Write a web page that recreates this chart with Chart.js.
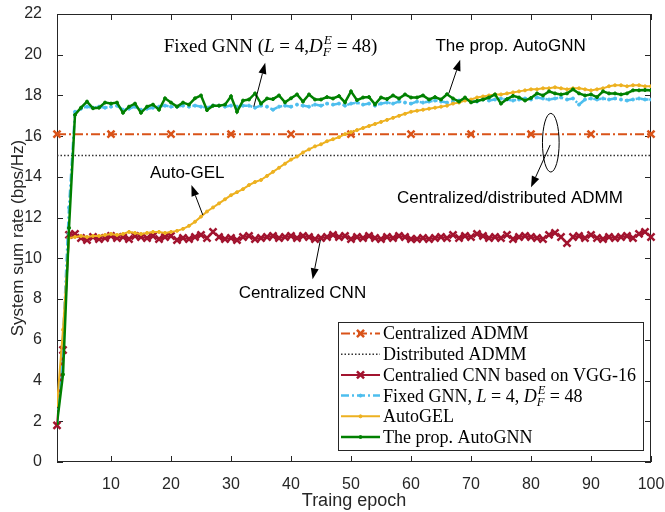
<!DOCTYPE html>
<html>
<head>
<meta charset="utf-8">
<script src="https://cdn.jsdelivr.net/npm/chart.js@4.4.1/dist/chart.umd.min.js"></script>
<style>
  html, body { margin: 0; padding: 0; background: #fff; }
</style>
</head>
<body>
<canvas id="chart-rate" width="665" height="512"></canvas>
<script>
// x axis: training epochs
const epochs = Array.from({ length: 100 }, (_, i) => i + 1);
const xTicks = [10, 20, 30, 40, 50, 60, 70, 80, 90, 100];
const yTicks = [0, 2, 4, 6, 8, 10, 12, 14, 16, 18, 20, 22];

// ADMM baselines (flat lines)
const admmEpochs = [1, 10, 20, 30, 40, 50, 60, 70, 80, 90, 100];
const centralAdmm = [16.1, 16.1, 16.1, 16.1, 16.1, 16.1, 16.1, 16.1, 16.1, 16.1, 16.1];
const distEpochs = [1, 100];
const distributedAdmm = [15.05, 15.05];

// learned methods, one value per epoch
const cnnRate = [
  1.8, 5.5, 11.15, 11.2, 11.0, 10.9, 11.05, 10.95, 11.0, 11.1,
  11.0, 11.05, 10.95, 11.1, 11.05, 11.0, 11.1, 10.95, 11.05, 11.1,
  10.9, 11.0, 10.95, 11.05, 11.15, 11.0, 11.3, 11.05, 10.95, 11.0,
  10.9, 11.05, 11.1, 10.95, 11.0, 11.05, 11.1, 11.0, 11.05, 11.1,
  11.0, 11.1, 11.05, 10.95, 11.0, 11.05, 11.15, 11.05, 11.1, 10.95,
  11.05, 11.0, 11.1, 11.0, 10.95, 11.05, 11.0, 11.1, 11.05, 10.95,
  10.95, 11.0, 10.95, 11.0, 11.05, 11.0, 11.15, 11.0, 11.1, 11.05,
  11.2, 11.1, 11.0, 11.05, 11.0, 11.15, 10.95, 11.05, 11.1, 11.05,
  11.0, 10.95, 11.15, 11.25, 11.05, 10.75, 11.05, 11.1, 11.0, 11.15,
  11.0, 10.95, 11.05, 11.0, 11.05, 11.1, 11.0, 11.2, 11.3, 11.05
];
const fixedGnnRate = [
  2.0, 6.0, 12.5, 17.2, 17.35, 17.45, 17.4, 17.45, 17.4, 17.45,
  17.5, 17.3, 17.35, 17.45, 17.3, 17.35, 17.4, 17.45, 17.5, 17.45,
  17.45, 17.5, 17.45, 17.5, 17.45, 17.4, 17.5, 17.5, 17.45, 17.5,
  17.45, 17.5, 17.5, 17.4, 17.5, 17.45, 17.3, 17.45, 17.5, 17.45,
  17.55, 17.5, 17.45, 17.55, 17.5, 17.6, 17.55, 17.6, 17.5, 17.6,
  17.65, 17.55, 17.6, 17.5, 17.6, 17.65, 17.6, 17.7, 17.65, 17.6,
  17.7, 17.65, 17.7, 17.75, 17.7, 17.65, 17.7, 17.75, 17.8, 17.75,
  17.7, 17.8, 17.75, 17.8, 17.85, 17.8, 17.75, 17.8, 17.85, 17.8,
  17.9, 17.85, 17.8, 17.85, 17.9, 17.8, 17.85, 17.55, 17.8, 17.85,
  17.8, 17.85, 17.8, 17.85, 17.8, 17.75, 17.8, 17.85, 17.8, 17.8
];
const autoGelRate = [
  2.8, 6.5, 11.0, 11.05, 11.1, 11.05, 11.1, 11.1, 11.15, 11.2,
  11.15, 11.2, 11.3, 11.25, 11.2, 11.25, 11.3, 11.3, 11.25, 11.3,
  11.35, 11.45, 11.6, 11.8, 12.05, 12.3, 12.5, 12.7, 12.9, 13.1,
  13.25, 13.4, 13.6, 13.75, 13.85, 14.05, 14.25, 14.45, 14.65, 14.85,
  15.0, 15.2, 15.35, 15.5, 15.6, 15.75, 15.85, 15.95, 16.1, 16.2,
  16.3, 16.4, 16.5, 16.6, 16.7, 16.8, 16.9, 17.0, 17.1, 17.2,
  17.25, 17.3, 17.35, 17.4, 17.45, 17.5, 17.6, 17.65, 17.75, 17.8,
  17.9, 17.95, 18.0, 18.05, 18.05, 18.1, 18.15, 18.2, 18.25, 18.3,
  18.3, 18.35, 18.35, 18.4, 18.35, 18.3, 18.35, 18.35, 18.3, 18.25,
  18.3, 18.35, 18.45, 18.5, 18.5, 18.45, 18.5, 18.5, 18.45, 18.45
];
const autoGnnRate = [
  1.9, 4.3, 11.5, 17.05, 17.4, 17.7, 17.37, 17.4, 17.65, 17.6,
  17.65, 17.15, 17.45, 17.6, 17.15, 17.45, 17.55, 17.3, 17.86, 17.65,
  17.45, 17.65, 17.55, 17.86, 18.0, 17.28, 17.5, 17.5, 17.55, 17.96,
  17.2, 17.75, 17.8, 18.1, 17.6, 17.85, 17.82, 18.0, 17.66, 17.86,
  18.05, 17.7, 18.05, 17.8, 17.8, 17.92, 17.85, 17.97, 17.66, 18.2,
  17.77, 17.9, 17.92, 17.56, 17.9, 17.82, 18.0, 17.85, 18.05, 17.9,
  17.9, 18.0, 17.8, 17.92, 17.8, 18.06, 17.85, 17.7, 17.9, 17.66,
  17.73, 17.8, 17.9, 18.05, 17.6, 17.82, 17.98, 17.9, 17.75, 17.88,
  18.1, 18.0, 18.2, 18.1, 18.05, 18.1, 18.3, 18.1, 18.0, 18.05,
  17.92, 18.2, 18.1, 18.1, 18.05, 18.1, 18.25, 18.25, 18.27, 18.25
];

const seriesNames = [
  'Centralized ADMM',
  'Distributed ADMM',
  'Centralied CNN based on VGG-16',
  'Fixed GNN, L = 4, D_F^E = 48',
  'AutoGEL',
  'The prop. AutoGNN'
];

const pairs = (xs, ys) => xs.map((x, i) => ({ x: x, y: ys[i] }));

const INK = '#262626';
const SERIF = '"Liberation Serif", "DejaVu Serif", serif';
const SANS = '"Liberation Sans", Arial, sans-serif';

// rich text: plain / italic / stacked super+subscript
function richWidth(ctx, parts, size) {
  let w = 0;
  parts.forEach(p => {
    if (p.sup) {
      ctx.font = 'italic ' + (size * 0.7) + 'px ' + SERIF;
      w += Math.max(ctx.measureText(p.sup).width, ctx.measureText(p.sub).width) + 1;
    } else {
      ctx.font = (p.it ? 'italic ' : '') + size + 'px ' + SERIF;
      w += ctx.measureText(p.t).width;
    }
  });
  return w;
}
function drawRich(ctx, parts, x, yMid, size, align) {
  let cx = align === 'center' ? x - richWidth(ctx, parts, size) / 2 : x;
  const base = yMid + size * 0.33;
  ctx.textAlign = 'left';
  ctx.textBaseline = 'alphabetic';
  parts.forEach(p => {
    if (p.sup) {
      ctx.font = 'italic ' + (size * 0.7) + 'px ' + SERIF;
      ctx.fillText(p.sup, cx + 1, base - size * 0.42);
      ctx.fillText(p.sub, cx, base + size * 0.22);
      cx += Math.max(ctx.measureText(p.sup).width, ctx.measureText(p.sub).width) + 1;
    } else {
      ctx.font = (p.it ? 'italic ' : '') + size + 'px ' + SERIF;
      ctx.fillText(p.t, cx, base);
      cx += ctx.measureText(p.t).width;
    }
  });
}

function arrow(ctx, x1, y1, x2, y2) {
  const a = Math.atan2(y2 - y1, x2 - x1);
  const len = 11, half = 4;
  ctx.beginPath();
  ctx.moveTo(x1, y1);
  ctx.lineTo(x2 - len * Math.cos(a), y2 - len * Math.sin(a));
  ctx.stroke();
  ctx.beginPath();
  ctx.moveTo(x2, y2);
  ctx.lineTo(x2 - len * Math.cos(a) + half * Math.sin(a), y2 - len * Math.sin(a) - half * Math.cos(a));
  ctx.lineTo(x2 - len * Math.cos(a) - half * Math.sin(a), y2 - len * Math.sin(a) + half * Math.cos(a));
  ctx.closePath();
  ctx.fill();
}

// text notes, arrows (from -> to) and ellipse, given in data units
const notes = [
  { rich: [{ t: 'Fixed GNN (' }, { t: 'L', it: 1 }, { t: ' = 4,' }, { t: 'D', it: 1 }, { sup: 'E', sub: 'F' }, { t: ' = 48)' }],
    at: [36.6, 20.43], from: [33.8, 17.45], to: [35.7, 19.6] },
  { text: 'The prop. AutoGNN', at: [76.6, 20.43], from: [66.3, 18.1], to: [68.2, 19.75] },
  { text: 'Auto-GEL', at: [22.7, 14.2], from: [25.3, 12.13], to: [23.4, 13.6] },
  { text: 'Centralized CNN', at: [41.9, 8.27], from: [44.9, 10.9], to: [43.6, 8.97] },
  { text: 'Centralized/distributed ADMM', at: [76.5, 12.94], from: [83.2, 15.57], to: [80.0, 13.49] }
];
const ring = { at: [83.3, 15.68], rx: 1.39, ry: 1.44 };

const framePlugin = {
  id: 'frame',
  beforeDatasetsDraw(chart) {
    const { ctx, chartArea: a, scales: { x, y } } = chart;
    ctx.save();
    ctx.strokeStyle = INK;
    ctx.lineWidth = 1;
    ctx.strokeRect(a.left + 0.5, a.top + 0.5, a.right - a.left - 1, a.bottom - a.top - 1);
    ctx.beginPath();
    xTicks.forEach(v => {
      const px = Math.round(x.getPixelForValue(v)) + 0.5;
      ctx.moveTo(px, a.bottom); ctx.lineTo(px, a.bottom - 6);
      ctx.moveTo(px, a.top); ctx.lineTo(px, a.top + 6);
    });
    yTicks.forEach(v => {
      const py = Math.round(y.getPixelForValue(v)) + 0.5;
      ctx.moveTo(a.left, py); ctx.lineTo(a.left + 6, py);
      ctx.moveTo(a.right, py); ctx.lineTo(a.right - 6, py);
    });
    ctx.stroke();
    ctx.restore();
  }
};

const notesPlugin = {
  id: 'notes',
  afterDatasetsDraw(chart) {
    const { ctx, scales: { x, y } } = chart;
    const px = v => x.getPixelForValue(v), py = v => y.getPixelForValue(v);
    ctx.save();
    ctx.fillStyle = '#000';
    ctx.strokeStyle = '#000';
    ctx.lineWidth = 1;
    notes.forEach(n => {
      if (n.rich) {
        drawRich(ctx, n.rich, px(n.at[0]), py(n.at[1]), 19, 'center');
      } else {
        ctx.font = '17px ' + SANS;
        ctx.textAlign = 'center';
        ctx.textBaseline = 'middle';
        ctx.fillText(n.text, px(n.at[0]), py(n.at[1]));
      }
      arrow(ctx, px(n.from[0]), py(n.from[1]), px(n.to[0]), py(n.to[1]));
    });
    const cx = px(ring.at[0]), cy = py(ring.at[1]);
    const rx = px(ring.at[0] + ring.rx) - cx, ry = cy - py(ring.at[1] + ring.ry);
    ctx.beginPath();
    ctx.ellipse(cx, cy, rx, ry, 0, 0, Math.PI * 2);
    ctx.stroke();
    ctx.restore();
  }
};

const legendParts = [
  [{ t: seriesNames[0] }],
  [{ t: seriesNames[1] }],
  [{ t: seriesNames[2] }],
  [{ t: 'Fixed GNN, ' }, { t: 'L', it: 1 }, { t: ' = 4, ' }, { t: 'D', it: 1 }, { sup: 'E', sub: 'F' }, { t: ' = 48' }],
  [{ t: seriesNames[4] }],
  [{ t: seriesNames[5] }]
];

const legendPlugin = {
  id: 'boxLegend',
  afterDraw(chart) {
    const { ctx, chartArea: a } = chart;
    const w = 305, h = 128;
    const left = a.right - 8 - w, top = a.bottom - 12 - h;
    ctx.save();
    ctx.fillStyle = '#fff';
    ctx.fillRect(left, top, w, h);
    ctx.strokeStyle = INK;
    ctx.lineWidth = 1;
    ctx.strokeRect(left + 0.5, top + 0.5, w, h);
    chart.data.datasets.forEach((ds, i) => {
      const yy = top + 11.5 + i * 20.7;
      ctx.strokeStyle = ds.borderColor;
      ctx.lineWidth = ds.borderWidth;
      ctx.setLineDash(ds.borderDash || []);
      ctx.beginPath();
      ctx.moveTo(left + 3, yy);
      ctx.lineTo(left + 42, yy);
      ctx.stroke();
      ctx.setLineDash([]);
      if (ds.pointRadius > 0) {
        ctx.fillStyle = ds.borderColor;
        ctx.strokeStyle = ds.borderColor;
        ctx.lineWidth = ds.pointBorderWidth;
        Chart.helpers.drawPoint(ctx, {
          pointStyle: ds.pointStyle, radius: ds.pointRadius,
          borderWidth: ds.pointBorderWidth, rotation: 0
        }, left + 22.5, yy);
      }
      ctx.fillStyle = '#000';
      drawRich(ctx, legendParts[i], left + 45, yy, 18, 'left');
    });
    ctx.restore();
  }
};

const datasets = [
  {
    label: seriesNames[0],
    data: pairs(admmEpochs, centralAdmm),
    borderColor: '#D95319', borderWidth: 2, borderDash: [9, 3, 2, 3],
    pointStyle: 'crossRot', pointRadius: 5, pointBorderWidth: 2.5,
    pointBorderColor: '#D95319', clip: false, order: 5
  },
  {
    label: seriesNames[1],
    data: pairs(distEpochs, distributedAdmm),
    borderColor: '#333333', borderWidth: 1.5, borderDash: [1.5, 2],
    pointRadius: 0, order: 4
  },
  {
    label: seriesNames[2],
    data: pairs(epochs, cnnRate),
    borderColor: '#A2142F', borderWidth: 2,
    pointStyle: 'crossRot', pointRadius: 5, pointBorderWidth: 2.5,
    pointBorderColor: '#A2142F', clip: false, order: 3
  },
  {
    label: seriesNames[3],
    data: pairs(epochs, fixedGnnRate),
    borderColor: '#4DBEEE', borderWidth: 2.5, borderDash: [8, 3, 2, 3],
    pointStyle: 'circle', pointRadius: 1.5, pointBorderWidth: 1,
    pointBackgroundColor: '#4DBEEE', pointBorderColor: '#4DBEEE', order: 2
  },
  {
    label: seriesNames[4],
    data: pairs(epochs, autoGelRate),
    borderColor: '#EDB120', borderWidth: 2,
    pointStyle: 'circle', pointRadius: 1.5, pointBorderWidth: 1,
    pointBackgroundColor: '#EDB120', pointBorderColor: '#EDB120', order: 1
  },
  {
    label: seriesNames[5],
    data: pairs(epochs, autoGnnRate),
    borderColor: '#008000', borderWidth: 2.5,
    pointStyle: 'circle', pointRadius: 1.5, pointBorderWidth: 1,
    pointBackgroundColor: '#008000', pointBorderColor: '#008000', order: 0
  }
];

const ctx = document.getElementById('chart-rate').getContext('2d');
new Chart(ctx, {
  type: 'line',
  data: { datasets: datasets },
  options: {
    responsive: false,
    animation: false,
    devicePixelRatio: 1,
    // plot box: left 57, right 651, top 14, bottom 462
    layout: { padding: { top: 14, right: 14, left: 0, bottom: 0 } },
    elements: { line: { tension: 0 } },
    plugins: { legend: { display: false }, tooltip: { enabled: false } },
    scales: {
      x: {
        type: 'linear', min: 1, max: 100,
        afterBuildTicks: s => { s.ticks = xTicks.map(v => ({ value: v })); },
        afterFit: s => { s.height = 50; s.paddingLeft = 0; s.paddingRight = 0; },
        grid: { display: false },
        border: { display: false },
        ticks: { color: INK, padding: 5, font: { family: SANS, size: 16 } },
        title: { display: true, text: 'Traing epoch', color: INK, padding: { top: 0, bottom: 0 },
                 font: { family: SANS, size: 18 } }
      },
      y: {
        min: 0, max: 22,
        afterBuildTicks: s => { s.ticks = yTicks.map(v => ({ value: v })); },
        afterFit: s => { s.width = 57; s.paddingTop = 0; s.paddingBottom = 0; },
        grid: { display: false },
        border: { display: false },
        ticks: { color: INK, padding: 7, font: { family: SANS, size: 16 } },
        title: { display: true, text: 'System sum rate (bps/Hz)', color: INK, padding: { top: 8, bottom: 0 },
                 font: { family: SANS, size: 17 } }
      }
    }
  },
  plugins: [framePlugin, notesPlugin, legendPlugin]
});
</script>
</body>
</html>
